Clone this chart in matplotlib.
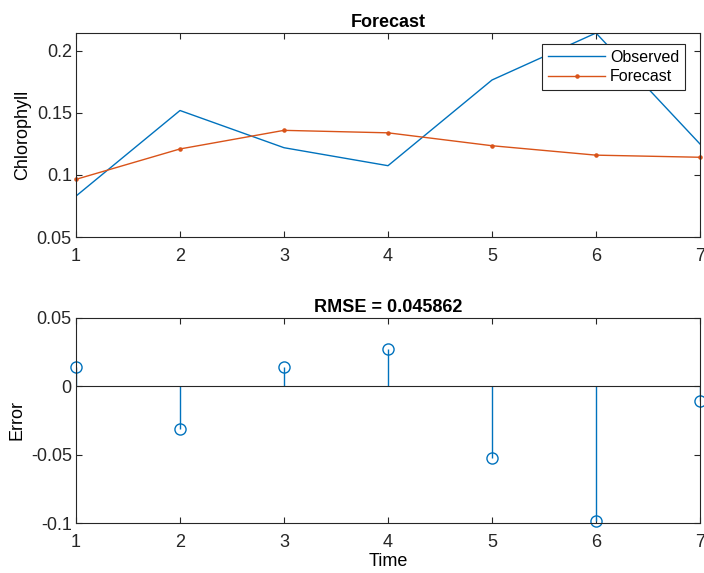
import matplotlib
matplotlib.use("Agg")
import matplotlib.pyplot as plt
import numpy as np

time = [1, 2, 3, 4, 5, 6, 7]
observed = [0.083, 0.152, 0.122, 0.1075, 0.1766, 0.2145, 0.125]
forecast = [0.0965, 0.121, 0.136, 0.134, 0.1236, 0.116, 0.1143]
error = [0.0144, -0.031, 0.0141, 0.027, -0.0526, -0.0987, -0.0104]
rmse_text = "RMSE = 0.045862"

blue = "#0072BD"
orange = "#D95319"

plt.rcParams['font.family'] = ['Liberation Sans', 'DejaVu Sans']
FS = 13

fig = plt.figure(figsize=(7.04, 5.73), dpi=100)
ax1 = fig.add_axes([76/704, 1-237/573, (700-76)/704, (237-33)/573])
ax2 = fig.add_axes([76/704, 1-523/573, (700-76)/704, (523-318)/573])

ax1.plot(time, observed, color=blue, lw=1.0, label="Observed")
ax1.plot(time, forecast, color=orange, lw=1.0, marker='.', ms=4.5, label="Forecast", clip_on=False)
ax1.set_xlim(1, 7)
ax1.set_ylim(0.05, max(observed))
ax1.set_yticks([0.05, 0.1, 0.15, 0.2])
ax1.set_yticklabels(["0.05", "0.1", "0.15", "0.2"])
ax1.set_ylabel("Chlorophyll", fontsize=FS, labelpad=4)
ax1.set_title("Forecast", fontsize=FS, fontweight='bold', pad=4.5)
leg = ax1.legend(loc='upper right', bbox_to_anchor=(0.976, 0.946), frameon=True,
                 fancybox=False, edgecolor='#262626',
                 framealpha=1, handlelength=3.6, borderaxespad=0.0, fontsize=11.5,
                 borderpad=0.35, labelspacing=0.3, handletextpad=0.3)
leg.get_frame().set_linewidth(0.8)

markerline, stemlines, baseline = ax2.stem(time, error, basefmt='k-')
plt.setp(stemlines, color=blue, linewidth=1.0)
plt.setp(markerline, color=blue, marker='o', markerfacecolor='none', markersize=8,
         markeredgewidth=1.0, clip_on=False)
plt.setp(baseline, color='#262626', linewidth=0.8)
baseline.set_xdata([1, 7])
ax2.set_xlim(1, 7)
ax2.set_ylim(-0.1, 0.05)
ax2.set_yticks([-0.1, -0.05, 0, 0.05])
ax2.set_yticklabels(["-0.1", "-0.05", "0", "0.05"])
ax2.set_ylabel("Error", fontsize=FS, labelpad=4)
ax2.set_xlabel("Time", fontsize=FS, labelpad=1)
ax2.set_title(rmse_text, fontsize=FS, fontweight='bold', pad=4.5)

for ax in (ax1, ax2):
    ax.set_xticks(time)
    ax.tick_params(direction='in', top=True, right=True, length=4, width=0.8,
                   colors='#262626', labelsize=FS)
    ax.tick_params(axis='x', pad=8)
    ax.tick_params(axis='y', pad=3)
    for s in ax.spines.values():
        s.set_color('#262626')
        s.set_linewidth(0.8)

fig.savefig("out.png", dpi=100)
